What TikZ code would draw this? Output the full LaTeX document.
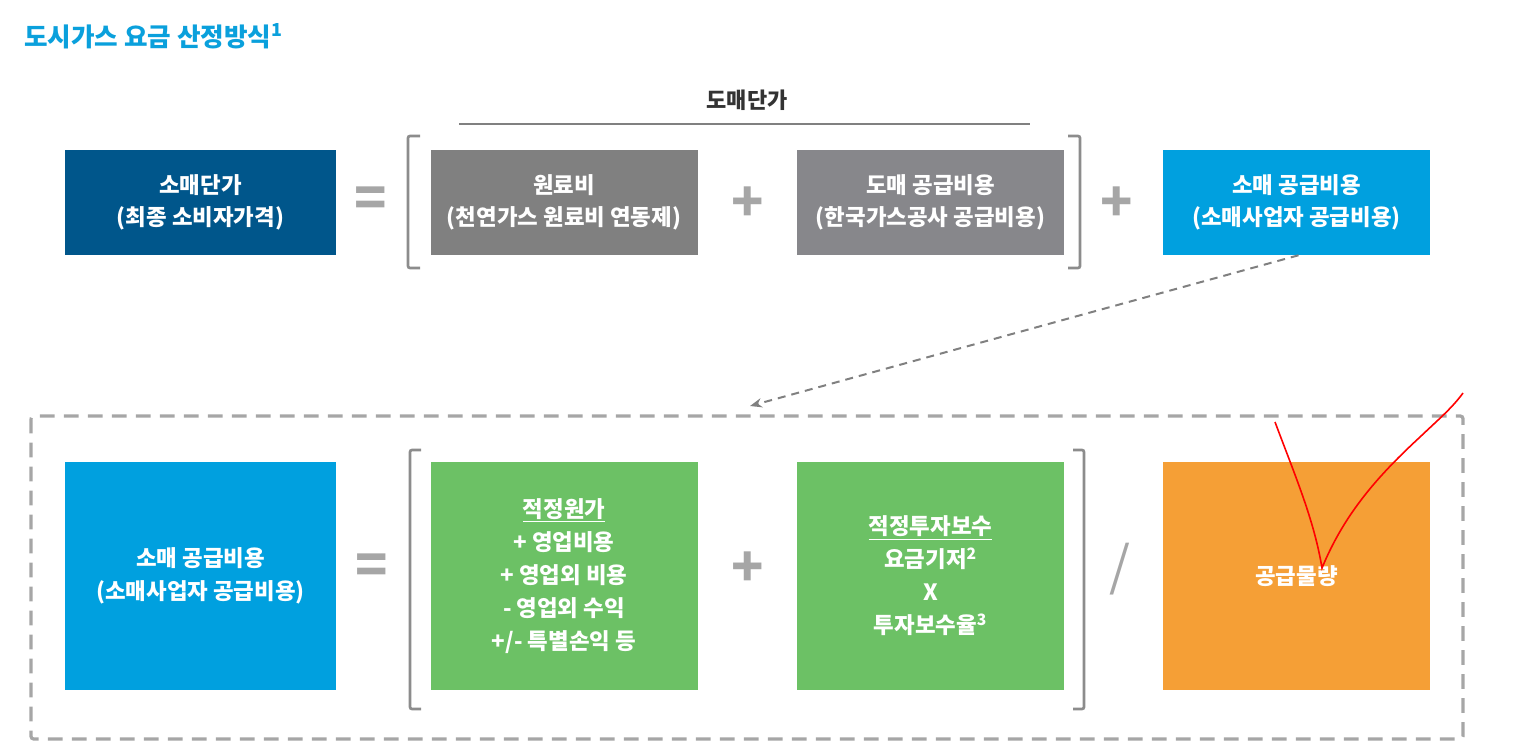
\documentclass[tikz,border=0pt]{standalone}
\usepackage{fontspec}
\setmainfont{Noto Sans CJK KR}
\usetikzlibrary{arrows.meta}
\definecolor{dblue}{HTML}{00568B}
\definecolor{lblue}{HTML}{00A0DF}
\definecolor{gbox}{HTML}{808080}
\definecolor{gbox2}{HTML}{87878B}
\definecolor{green1}{HTML}{6CC165}
\definecolor{orange1}{HTML}{F59F36}
\definecolor{symgray}{HTML}{A6A6A6}
\definecolor{brgray}{HTML}{8C8C8C}
\definecolor{titleblue}{HTML}{0AA0DC}
\tikzset{
  box/.style={inner sep=0pt, align=center, text=white, font=\fontsize{16.8}{24}\selectfont\bfseries, minimum width=200.25pt},
  topbox/.style={box, minimum height=78.75pt},
  botbox/.style={box, minimum height=171pt, font=\fontsize{16.8}{24.75}\selectfont\bfseries},
  sym/.style={text=symgray, font=\fontsize{40}{40}\selectfont\bfseries, inner sep=0pt},
  bracket/.style={draw=brgray, line width=2pt, rounded corners=1.5pt},
}
\begin{document}
\begin{tikzpicture}[x=0.75pt,y=-0.75pt]
\useasboundingbox (0,0) rectangle (1531,756);
% title
\node[anchor=west, text=titleblue, font=\fontsize{19.2}{22}\selectfont\bfseries, inner sep=0pt] (title) at (24,36) {도시가스 요금 산정방식\textsuperscript{1}};
% wholesale label
\node[text=black!80, font=\fontsize{16.5}{20}\selectfont\bfseries, inner sep=0pt] (wlabel) at (747,100) {도매단가};
\coordinate (wl1) at (459,124);
\coordinate (wl2) at (1030,124);
\draw[gbox, line width=0.9pt] (wl1) -- (wl2);
% top row
\node[topbox, fill=dblue, minimum width=203.25pt] (A) at (200.5,202.5) {소매단가\\(최종 소비자가격)};
\node[sym] (eq1) at (371,202) {=};
\node[topbox, fill=gbox] (B) at (564,202.5) {원료비\\(천연가스 원료비 연동제)};
\node[sym] (p1) at (748,204) {+};
\node[topbox, fill=gbox2] (C) at (930.5,202.5) {도매 공급비용\\(한국가스공사 공급비용)};
\node[sym] (p2) at (1117,204) {+};
\node[topbox, fill=lblue] (D) at (1296.5,202.5) {소매 공급비용\\(소매사업자 공급비용)};
% top brackets
\draw[bracket] (420,136) -- (408,136) -- (408,268) -- (420,268);
\draw[bracket] (1068,136) -- (1080,136) -- (1080,268) -- (1068,268);
% dashed arrow
\coordinate (arrEnd) at (750,406);
\draw[gbox, line width=1.5pt, dash pattern=on 6pt off 4.5pt, -{Stealth[length=9pt,width=7pt]}] (D.south) ++(2,0) coordinate (arrStart) (arrStart) -- (arrEnd);
% dashed frame
\draw[symgray, line width=2.4pt, dash pattern=on 11pt off 7pt, rounded corners=2pt] (31,416) rectangle (1463,739);
% bottom row
\node[botbox, fill=lblue, minimum width=203.25pt] (E) at (200.5,576) {소매 공급비용\\(소매사업자 공급비용)};
\node[sym] (eq2) at (372,569) {=};
\node[botbox, fill=green1] (F) at (564,576) {\underline{적정원가}\\+ 영업비용\\+ 영업외 비용\\- 영업외 수익\\+/- 특별손익 등};
\node[sym] (p3) at (748,569) {+};
\node[botbox, fill=green1] (G) at (930.5,576) {\underline{적정투자보수}\\요금기저\textsuperscript{2}\\X\\투자보수율\textsuperscript{3}};
\node[sym, font=\fontsize{40}{40}\selectfont] (sl) at (1120,569) {/};
\node[botbox, fill=orange1] (H) at (1296.5,576) {공급물량};
% bottom brackets
\draw[bracket] (421,450) -- (410,450) -- (410,709) -- (421,709);
\draw[bracket] (1073,450) -- (1084,450) -- (1084,709) -- (1073,709);
% red scribble
\draw[red, line width=1.2pt] (1275,422) .. controls (1296,478) and (1314,520) .. (1322,568) .. controls (1345,512) and (1380,474) .. (1420,437) .. controls (1440,418) and (1452,408) .. (1463,393);
\end{tikzpicture}
\end{document}
